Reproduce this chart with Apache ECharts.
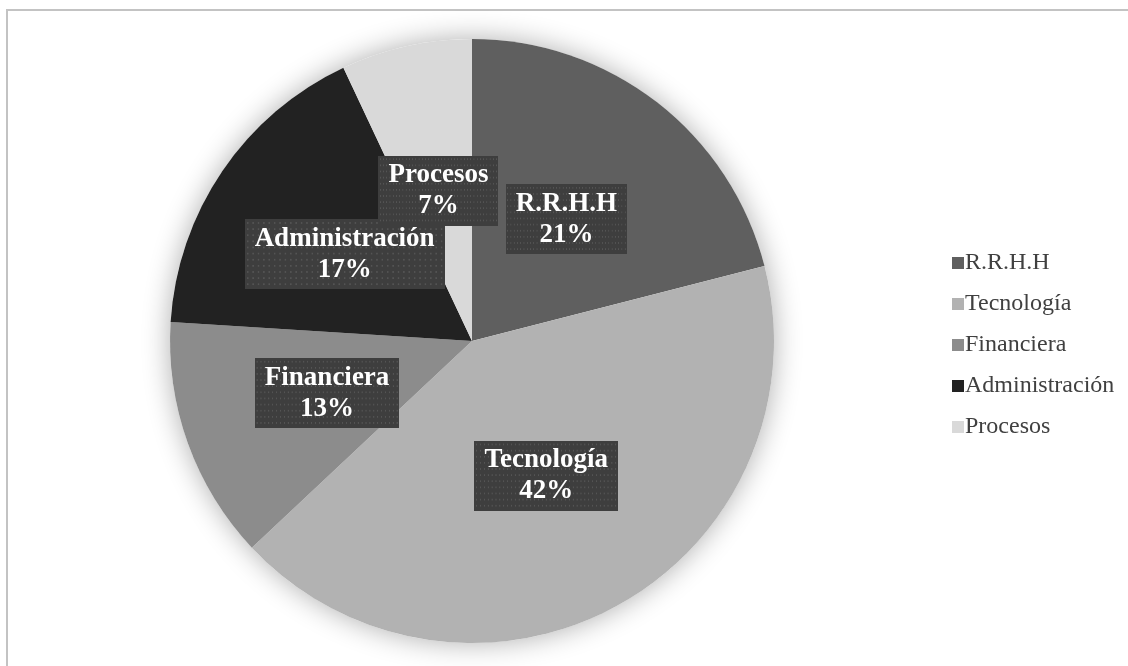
<!DOCTYPE html>
<html>
<head>
<meta charset="utf-8">
<script src="https://cdn.jsdelivr.net/npm/echarts@6/dist/echarts.min.js"></script>
<style>
  html, body { margin: 0; padding: 0; background: #ffffff; }
  #chart { width: 1128px; height: 666px; }
</style>
</head>
<body>
<div id="chart"></div>
<script>
// Distribución por área
const categories = ['R.R.H.H', 'Tecnología', 'Financiera', 'Administración', 'Procesos'];
const percentages = [21, 42, 13, 17, 7];
const sliceColors = ['#5f5f5f', '#b2b2b2', '#8c8c8c', '#222222', '#d9d9d9'];

// Dotted texture used behind the data labels
function dottedTexture(w, h) {
  const c = document.createElement('canvas');
  c.width = w; c.height = h;
  const g = c.getContext('2d');
  g.fillStyle = '#3e3e3e';
  g.fillRect(0, 0, w, h);
  g.fillStyle = '#545454';
  for (let y = 3; y < h; y += 7) {
    for (let x = 3; x < w; x += 7) {
      g.fillRect(x, y, 2, 2);
    }
  }
  return c;
}
const texture = dottedTexture(260, 80);

const chart = echarts.init(document.getElementById('chart'), null, { renderer: 'canvas' });

const pieCenter = [472, 341];
const pieRadius = 302;
const serif = "'Liberation Serif', 'Times New Roman', serif";

chart.setOption({
  backgroundColor: '#ffffff',
  animation: false,
  color: sliceColors,
  graphic: [{
    type: 'rect',
    shape: { x: 7, y: 10, width: 1160, height: 700 },
    style: { fill: 'none', stroke: '#c3c3c3', lineWidth: 2 },
    silent: true
  }],
  legend: {
    orient: 'vertical',
    left: 947,
    top: 246,
    itemWidth: 12,
    itemHeight: 12,
    itemGap: 17,
    icon: 'rect',
    data: categories,
    textStyle: {
      fontFamily: serif,
      fontSize: 24,
      color: '#404040',
      padding: [0, 0, 0, -4]
    }
  },
  series: [
    {
      // soft halo under the pie
      type: 'pie',
      silent: true,
      center: pieCenter,
      radius: pieRadius,
      label: { show: false },
      labelLine: { show: false },
      itemStyle: {
        color: '#ffffff',
        shadowBlur: 28,
        shadowColor: 'rgba(0,0,0,0.32)'
      },
      data: [{ value: 1, name: '' }],
      z: 1
    },
    {
      type: 'pie',
      center: pieCenter,
      radius: pieRadius,
      startAngle: 90,
      clockwise: true,
      avoidLabelOverlap: false,
      minShowLabelAngle: 0,
      z: 2,
      itemStyle: { borderWidth: 0 },
      labelLayout: { hideOverlap: false },
      label: {
        show: true,
        position: 'inside',
        formatter: p => p.name + '\n' + p.value + '%',
        fontFamily: serif,
        fontWeight: 'bold',
        fontSize: 27,
        lineHeight: 31,
        color: '#ffffff',
        backgroundColor: { image: texture },
        padding: [4, 10],
        shadowColor: 'rgba(0,0,0,0.55)',
        shadowBlur: 7,
        shadowOffsetX: 4,
        shadowOffsetY: 4
      },
      labelLine: { show: false },
      emphasis: { disabled: true },
      data: categories.map((name, i) => ({ name: name, value: percentages[i] }))
    }
  ]
});
</script>
</body>
</html>
